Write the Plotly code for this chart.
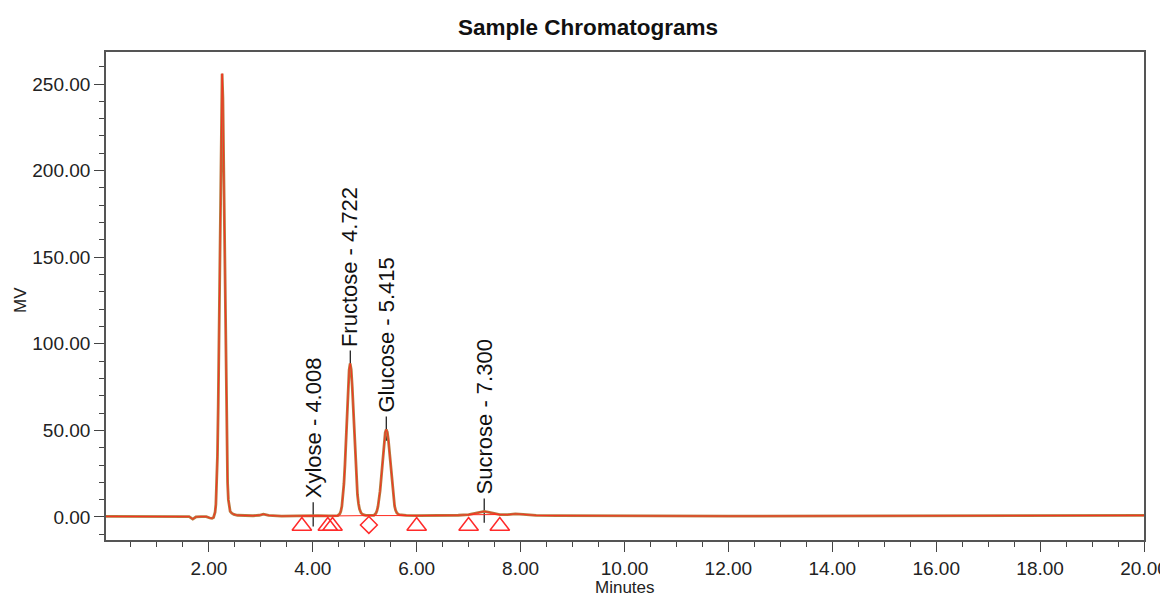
import plotly.graph_objects as go

# ---- chromatogram trace (minutes, mV) ----
time_min = [0.02, 0.5, 1.0, 1.5, 1.62, 1.69, 1.75, 1.85, 1.95, 2.02, 2.06, 2.09,
            2.105, 2.12, 2.135, 2.15, 2.165, 2.18, 2.195, 2.21, 2.225, 2.24, 2.255,
            2.27, 2.285, 2.30, 2.315, 2.33, 2.345, 2.36, 2.375, 2.39, 2.41, 2.44, 2.48,
            2.55, 2.7, 2.85, 2.97, 3.05, 3.15, 3.4, 3.7, 3.9, 4.008, 4.1, 4.3, 4.4,
            4.48, 4.52, 4.54, 4.56, 4.58, 4.60, 4.62, 4.64, 4.66, 4.68, 4.70, 4.72,
            4.74, 4.76, 4.78, 4.80, 4.82, 4.84, 4.86, 4.88, 4.90, 4.93, 4.97, 5.02,
            5.08, 5.175, 5.215, 5.235, 5.255, 5.275, 5.295, 5.315, 5.335, 5.355, 5.375,
            5.395, 5.415, 5.435, 5.455, 5.475, 5.495, 5.515, 5.535, 5.555, 5.575, 5.595,
            5.62, 5.66, 5.72, 5.8, 6.0, 6.4, 6.8, 7.0, 7.1, 7.2, 7.3, 7.4, 7.5, 7.6,
            7.75, 7.9, 8.05, 8.3, 8.7, 9.5, 10.5, 12.0, 14.0, 16.0, 18.0, 19.0, 20.0]
signal_mv = [0.3, 0.4, 0.4, 0.3, 0.2, -1.2, 0.0, 0.2, 0.2, -0.6, -0.8, -0.3,
             1.0, 2.8, 7.3, 17.0, 35.0, 64.0, 105.0, 155.0, 205.0, 242.0, 256.0,
             242.0, 205.0, 157.0, 108.0, 68.0, 38.0, 20.0, 10.0, 5.5, 3.2, 2.2, 1.5,
             1.0, 0.7, 0.7, 1.0, 1.6, 0.9, 0.5, 0.6, 0.7, 1.0, 0.7, 0.6, 0.6,
             0.8, 1.8, 3.3, 6.1, 11.2, 19.2, 30.4, 44.6, 60.3, 74.6, 84.9, 88.6,
             85.1, 75.2, 61.5, 46.3, 32.1, 21.0, 13.0, 7.8, 4.6, 2.3, 1.3, 0.9,
             0.8, 0.9, 2.1, 3.5, 6.0, 9.6, 14.9, 21.5, 29.2, 37.1, 44.0,
             48.8, 50.5, 49.0, 44.5, 37.8, 30.0, 22.3, 15.6, 10.2, 6.3, 3.8,
             2.2, 1.3, 1.0, 0.9, 0.8, 0.8, 1.0, 1.3, 1.8, 2.6, 3.2, 2.6, 1.8, 1.4,
             1.3, 1.8, 1.5, 0.9, 0.8, 0.6, 0.6, 0.5, 0.5, 0.5, 0.6, 0.7, 0.9]

# ---- identified peaks ----
peak_names = ["Xylose", "Fructose", "Glucose", "Sucrose"]
peak_times = [4.008, 4.722, 5.415, 7.300]
peak_apex_mv = [1.0, 88.6, 50.5, 3.2]

# ---- integration start/stop marks ----
triangle_times = [3.79, 4.29, 4.38, 6.00, 7.00, 7.60]
diamond_times = [5.08]
baseline_start = [3.79, 4.38, 5.08, 7.00]
baseline_end = [4.29, 5.08, 6.00, 7.60]
baseline_start_mv = [0.6, 0.6, 0.8, 1.3]
baseline_end_mv = [0.6, 0.8, 0.8, 1.4]

x_ticks = [2, 4, 6, 8, 10, 12, 14, 16, 18, 20]
y_ticks = [0, 50, 100, 150, 200, 250]

MARK_Y = -5.2
FONT = "Liberation Sans, Arial, sans-serif"

# page body has an 8px margin: figure is sized/offset to compensate
OFF = 8
W, H = 1168 - OFF, 598 - OFF
PL, PR, PT, PB = 106, 1144, 52, 540  # plot area in page pixels

fig = go.Figure()

fig.add_trace(go.Scatter(x=time_min, y=signal_mv, mode="lines",
                         line=dict(color="#b5793c", width=2.8), hoverinfo="skip",
                         showlegend=False))
fig.add_trace(go.Scatter(x=time_min, y=signal_mv, mode="lines",
                         line=dict(color="#ff2a1f", width=0.9), hoverinfo="skip",
                         showlegend=False))

bx, by = [], []
for s, e, sv, ev in zip(baseline_start, baseline_end, baseline_start_mv, baseline_end_mv):
    bx += [s, e, None]
    by += [sv, ev, None]
fig.add_trace(go.Scatter(x=bx, y=by, mode="lines", line=dict(color="#ff2a1f", width=1),
                         hoverinfo="skip", showlegend=False))

fig.add_trace(go.Scatter(x=triangle_times, y=[MARK_Y] * len(triangle_times), mode="markers",
                         marker=dict(symbol="triangle-up-open", size=17, color="#ff2a2a",
                                     line=dict(width=1.5)),
                         hoverinfo="skip", showlegend=False))
fig.add_trace(go.Scatter(x=diamond_times, y=[MARK_Y + 0.6] * len(diamond_times), mode="markers",
                         marker=dict(symbol="diamond-open", size=13, color="#ff2a2a",
                                     line=dict(width=1.5)),
                         hoverinfo="skip", showlegend=False))

for name, t, h in zip(peak_names, peak_times, peak_apex_mv):
    fig.add_shape(type="line", xref="x", yref="y", x0=t, x1=t, y0=h - 6.5, y1=h + 7.5,
                  line=dict(color="#111111", width=1.2), layer="below")
    fig.add_annotation(x=t, y=h + 8.5, xref="x", yref="y", text=f"{name} - {t:.3f}",
                       textangle=-90, showarrow=False, xanchor="center", yanchor="bottom",
                       font=dict(family=FONT, size=22, color="#111111"))

fig.add_annotation(text="MV", xref="paper", yref="paper", x=(20 - PL) / (PR - PL),
                   y=(PB - 300) / (PB - PT), textangle=-90, showarrow=False,
                   xanchor="center", yanchor="middle",
                   font=dict(family=FONT, size=17, color="#222"))
fig.add_annotation(text="Minutes", xref="paper", yref="paper", x=(625 - PL) / (PR - PL),
                   y=(PB - 587) / (PB - PT), showarrow=False,
                   xanchor="center", yanchor="middle",
                   font=dict(family=FONT, size=17, color="#222"))

axis_common = dict(showline=True, linecolor="#555555", linewidth=1.6, mirror=True,
                   showgrid=False, zeroline=False, ticks="outside", ticklen=10,
                   tickcolor="#444444", tickwidth=1.3, tickformat=".2f",
                   tickfont=dict(family=FONT, size=19, color="#222222"))

fig.update_xaxes(range=[0.02, 20.0], tickmode="array", tickvals=x_ticks,
                 minor=dict(dtick=0.5, tick0=0, ticks="outside", ticklen=5,
                            tickcolor="#444444", tickwidth=1.3),
                 **axis_common)
fig.update_yaxes(range=[-13.3, 268.5], tickmode="array", tickvals=y_ticks,
                 minor=dict(dtick=10, tick0=0, ticks="outside", ticklen=5,
                            tickcolor="#444444", tickwidth=1.3),
                 **axis_common)

fig.update_layout(
    width=W, height=H,
    margin=dict(l=PL - OFF, r=1168 - PR, t=PT - OFF, b=598 - PB, autoexpand=False),
    paper_bgcolor="white", plot_bgcolor="white",
    title=dict(text="<b>Sample Chromatograms</b>", x=(588 - OFF) / W, xref="container",
               xanchor="center", y=1 - (27 - OFF) / H, yref="container", yanchor="middle",
               font=dict(family=FONT, size=22.5, color="#111")),
)

fig.write_html("out.html")
